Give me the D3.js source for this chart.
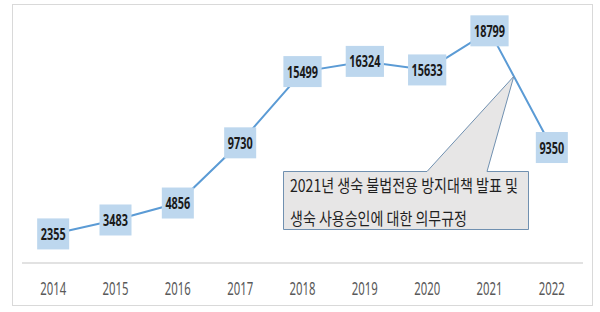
<!DOCTYPE html>
<html>
<head>
<meta charset="utf-8">
<script src="https://cdn.jsdelivr.net/npm/d3@7"></script>
<style>
body { margin: 0; background: #fff; }
svg { display: block; }
</style>
</head>
<body>
<script>
// data
var years = ["2014", "2015", "2016", "2017", "2018", "2019", "2020", "2021", "2022"];
var counts = [2355, 3483, 4856, 9730, 15499, 16324, 15633, 18799, 9350];
var noteLines = ["2021년 생숙 불법전용 방지대책 발표 및", "생숙 사용승인에 대한 의무규정"];

var W = 600, H = 312;
var svg = d3.select("body").append("svg").attr("width", W).attr("height", H);

// outer frame
svg.append("rect")
  .attr("x", 12.5).attr("y", 4.5).attr("width", 580).attr("height", 301)
  .attr("fill", "#fff").attr("stroke", "#d9d9d9").attr("stroke-width", 1);

var x = d3.scaleBand().domain(years).range([22, 583]);
var y = d3.scaleLinear().domain([0, 20000]).range([263, 16]);
var cx = function(d, i){ return x(years[i]) + x.bandwidth() / 2; };

// baseline
svg.append("line")
  .attr("x1", 22).attr("x2", 583).attr("y1", 263).attr("y2", 263)
  .attr("stroke", "#d9d9d9").attr("stroke-width", 1.5);

// year labels (condensed look)
var xAxis = d3.axisBottom(x).tickSize(0).tickPadding(0);
var ax = svg.append("g").attr("transform", "translate(0,263)").call(xAxis);
ax.select(".domain").remove();
ax.selectAll(".tick text")
  .attr("y", 0).attr("dy", 0)
  .attr("transform", "translate(0,32) scale(0.63,1)")
  .style("font-family", "'Noto Sans', sans-serif")
  .style("font-size", "18px")
  .attr("fill", "#595959");

// line
var line = d3.line().x(cx).y(function(d){ return y(d); });
svg.append("path").datum(counts)
  .attr("d", line)
  .attr("fill", "none").attr("stroke", "#5b9bd5").attr("stroke-width", 2);

// callout
var i21 = years.indexOf("2021");
var t = 0.39;
var tipX = cx(0, i21) + t * (cx(0, i21 + 1) - cx(0, i21));
var tipY = y(counts[i21]) + t * (y(counts[i21 + 1]) - y(counts[i21]));
var bx = 283.5, by = 171.5, bw = 245, bh = 58;
var callout = d3.path();
callout.moveTo(bx, by);
callout.lineTo(427, by);
callout.lineTo(tipX, tipY);
callout.lineTo(487, by);
callout.lineTo(bx + bw, by);
callout.lineTo(bx + bw, by + bh);
callout.lineTo(bx, by + bh);
callout.closePath();
svg.append("path").attr("d", callout.toString())
  .attr("fill", "#e7e6e6").attr("stroke", "#7090b0").attr("stroke-width", 1);

svg.selectAll("text.note").data(noteLines).enter().append("text")
  .attr("class", "note")
  .attr("x", 290)
  .attr("y", function(d, i){ return 192 + i * 33; })
  .attr("textLength", function(d, i){ return i === 0 ? 228 : 177; })
  .attr("lengthAdjust", "spacingAndGlyphs")
  .style("font-family", "'Noto Sans CJK KR', sans-serif")
  .style("font-size", "17px")
  .attr("fill", "#1f1f1f")
  .text(function(d){ return d; });

// data labels
var lab = svg.selectAll("g.lab").data(counts).enter().append("g")
  .attr("class", "lab")
  .attr("transform", function(d, i){ return "translate(" + cx(d, i) + "," + y(d) + ")"; });

var sx = 0.68;
lab.each(function(d){
  var g = d3.select(this);
  var r = g.append("rect").attr("fill", "#bdd7ee");
  var tx = g.append("text")
    .attr("text-anchor", "middle")
    .attr("transform", "translate(0,6) scale(" + sx + ",1)")
    .style("font-family", "'Noto Sans', sans-serif")
    .style("font-weight", "bold")
    .style("font-size", "16px")
    .attr("fill", "#1a1a1a")
    .text(d);
  var w = tx.node().getBBox().width * sx + 7;
  r.attr("x", -w / 2).attr("y", -15.5).attr("width", w).attr("height", 31);
});
</script>
</body>
</html>
